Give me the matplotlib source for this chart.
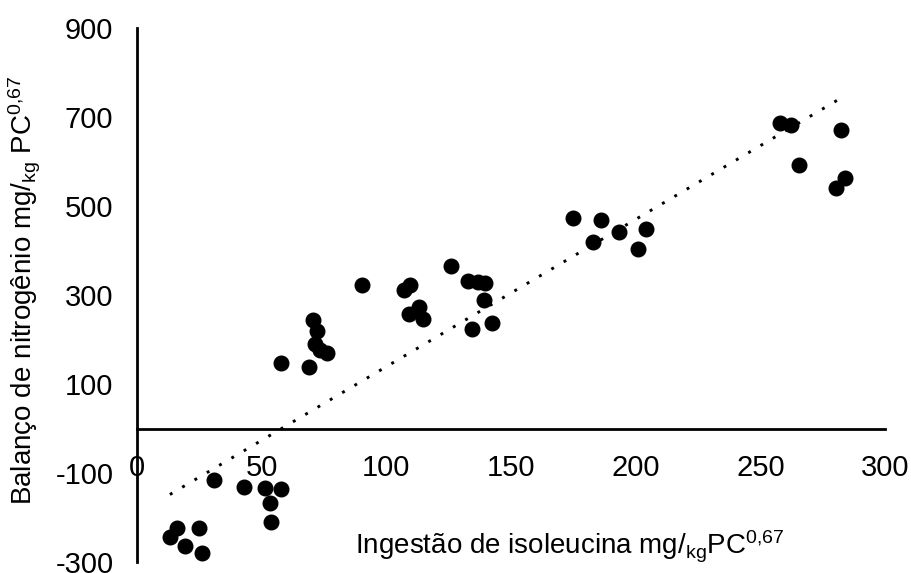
import numpy as np
import matplotlib
matplotlib.use("Agg")
import matplotlib.pyplot as plt

# isoleucine intake (mg/kg PC^0.67) and nitrogen balance
ingestao = [13.2, 16.0, 19.3, 24.9, 26.1, 30.9, 42.9, 51.3, 57.8, 53.3, 53.8,
            57.8, 69.0, 70.6, 72.2, 71.4, 73.4, 76.2, 90.2, 107.1, 109.5,
            109.1, 113.1, 114.7, 126.0, 132.9, 136.9, 139.6, 139.0, 134.3,
            142.3, 175.0, 186.0, 193.5, 204.0, 200.8, 182.8, 257.9, 262.2,
            282.3, 265.7, 284.0, 280.3]
balanco = [-244, -224, -264, -224, -280, -116, -131, -133, -137, -167, -210,
           147, 138, 244, 219, 190, 176, 169, 322, 311, 322,
           257, 273, 246, 366, 331, 330, 326, 289, 223,
           238, 474, 468, 441, 449, 403, 418, 686, 682,
           671, 592, 562, 541]
# trendline as drawn in the original (slope, intercept)
trend_slope = 3.31
trend_intercept = -192.0
y_ticks = [-300, -100, 100, 300, 500, 700, 900]
x_ticks = [0, 50, 100, 150, 200, 250, 300]

plt.rcParams["font.family"] = ["Liberation Sans", "DejaVu Sans"]
plt.rcParams["mathtext.fontset"] = "custom"
plt.rcParams["mathtext.rm"] = "Liberation Sans"
plt.rcParams["mathtext.it"] = "Liberation Sans"
plt.rcParams["axes.unicode_minus"] = False

W, H = 912, 573
fig = plt.figure(figsize=(W / 100, H / 100), dpi=100)
ax = fig.add_axes([137 / W, 1 - 562 / H, (885 - 137) / W, (562 - 28) / H])

x = np.array(ingestao)
y = np.array(balanco)
ax.plot(x, y, "o", color="black", markersize=10.5, zorder=3)

# linear trendline over the data range
xs = np.array([x.min(), x.max()])
ax.plot(xs, trend_intercept + trend_slope * xs, color="black", lw=2.1,
        linestyle=(0, (1, 3.9)), zorder=2)

ax.set_xlim(0, 300)
ax.set_ylim(-300, 900)
ax.set_xticks(x_ticks)
ax.set_yticks(y_ticks)
ax.spines["top"].set_visible(False)
ax.spines["right"].set_visible(False)
ax.spines["bottom"].set_position(("data", 0))
ax.spines["left"].set_linewidth(2)
ax.spines["bottom"].set_linewidth(2)
ax.tick_params(axis="both", length=0, labelsize=21)
ax.tick_params(axis="x", pad=18)
ax.tick_params(axis="y", pad=17)

fig.text(570 / W, 1 - 547 / H, r"Ingestão de isoleucina mg/$_{\mathrm{kg}}$PC$^{0{,}67}$",
         ha="center", va="center", fontsize=20)
fig.text(25 / W, 1 - 290 / H, r"Balanço de nitrogênio mg/$_{\mathrm{kg}}$ PC$^{0{,}67}$",
         ha="center", va="center", rotation=90, fontsize=20)

fig.savefig("out.png", dpi=100)
